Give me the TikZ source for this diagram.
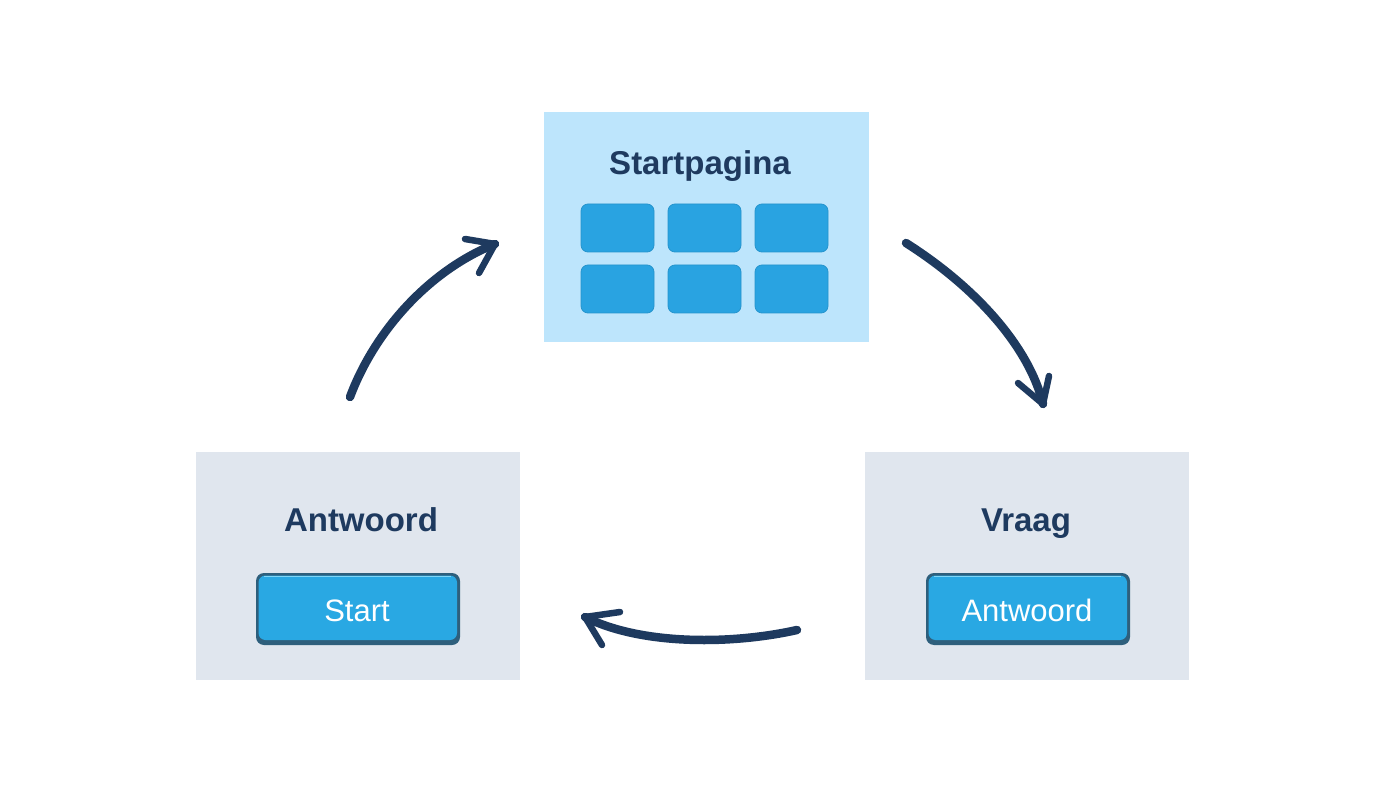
\documentclass[tikz,border=0pt]{standalone}
\usepackage{fontspec}
\setmainfont{Liberation Sans}
\definecolor{navy}{HTML}{1E3A5F}
\definecolor{pagebg}{HTML}{BDE5FC}
\definecolor{greybg}{HTML}{E0E6EE}
\definecolor{tile}{HTML}{29A3E1}
\definecolor{btn}{HTML}{29A8E3}
\definecolor{btndark}{HTML}{2E5F7C}
\definecolor{btnlight}{HTML}{7FD6F7}
\tikzset{
  panel/.style={draw=none, rectangle, inner sep=0pt},
  tilebox/.style={fill=tile, draw=tile!85!black!60!tile, line width=0.8pt, rounded corners=7pt},
  title/.style={font=\fontsize{33}{36}\selectfont\bfseries, text=navy, anchor=base, inner sep=0pt},
  btntext/.style={font=\fontsize{31}{34}\selectfont, text=white, anchor=base, inner sep=0pt},
  flow/.style={draw=navy, line width=8.5pt, line cap=round},
  flowthin/.style={draw=navy, line width=6pt, line cap=round},
  headline/.style={draw=navy, line width=6.5pt, line cap=round, line join=round},
}
\newcommand{\mybutton}[5]{% x1 y1 x2 y2 name
  \fill[btndark, rounded corners=8pt] (#1,#2) rectangle (#3,#4);
  \fill[btn, rounded corners=7pt] (#1+2.5,#2+2.5) rectangle (#3-3,#4-5);
  \draw[btnlight, line width=1.5pt] (#1+8,#2+3.5) -- (#3-9,#2+3.5);
  \coordinate (#5) at ({(#1+#3)/2},{(#2+#4)/2});
}
\begin{document}
\begin{tikzpicture}[x=1pt,y=-1pt]
\useasboundingbox (0,0) rectangle (1400,794);
\fill[white] (0,0) rectangle (1400,794);

% panels
\fill[pagebg] (544,112) rectangle (869,342);
\node[panel] (start) at (706.5,227) {};
\fill[greybg] (196,452) rectangle (520,680);
\node[panel] (antw) at (358,566) {};
\fill[greybg] (865,452) rectangle (1189,680);
\node[panel] (vraag) at (1027,566) {};

% titles
\node[title] (t1) at (700,175) {Startpagina};
\node[title] (t2) at (361,531) {Antwoord};
\node[title] (t3) at (1026,531) {Vraag};

% tiles
\foreach \x in {581,668,755}{
  \draw[tilebox] (\x,204) rectangle (\x+73,252);
  \draw[tilebox] (\x,265) rectangle (\x+73,313);
}

% buttons
\mybutton{256}{573}{460}{645}{b1}
\node[btntext] (bt1) at (357,621) {Start};
\mybutton{926}{573}{1130}{645}{b2}
\node[btntext] (bt2) at (1027,621) {Antwoord};

% arrows
\coordinate (a1s) at (350,397);
\coordinate (a1e) at (495,244);
\coordinate (a1h1) at (465,239);
\coordinate (a1h2) at (479,273);
\draw[flow] (a1s) .. controls (375,330) and (430,270) .. (a1e);
\draw[headline] (a1h1) -- (a1e) -- (a1h2);

\coordinate (a2s) at (906,243);
\coordinate (a2e) at (1043,404);
\coordinate (a2h1) at (1018,383);
\coordinate (a2h2) at (1049,376);
\draw[flow] (a2s) .. controls (980,290) and (1030,350) .. (a2e);
\draw[headline] (a2h1) -- (a2e) -- (a2h2);

\coordinate (a3s) at (797,630);
\coordinate (a3e) at (585,617);
\coordinate (a3h1) at (620,612);
\coordinate (a3h2) at (602,645);
\draw[flow] (a3s) .. controls (730,645) and (640,645) .. (a3e);
\draw[headline] (a3h1) -- (a3e) -- (a3h2);
\end{tikzpicture}
\end{document}
